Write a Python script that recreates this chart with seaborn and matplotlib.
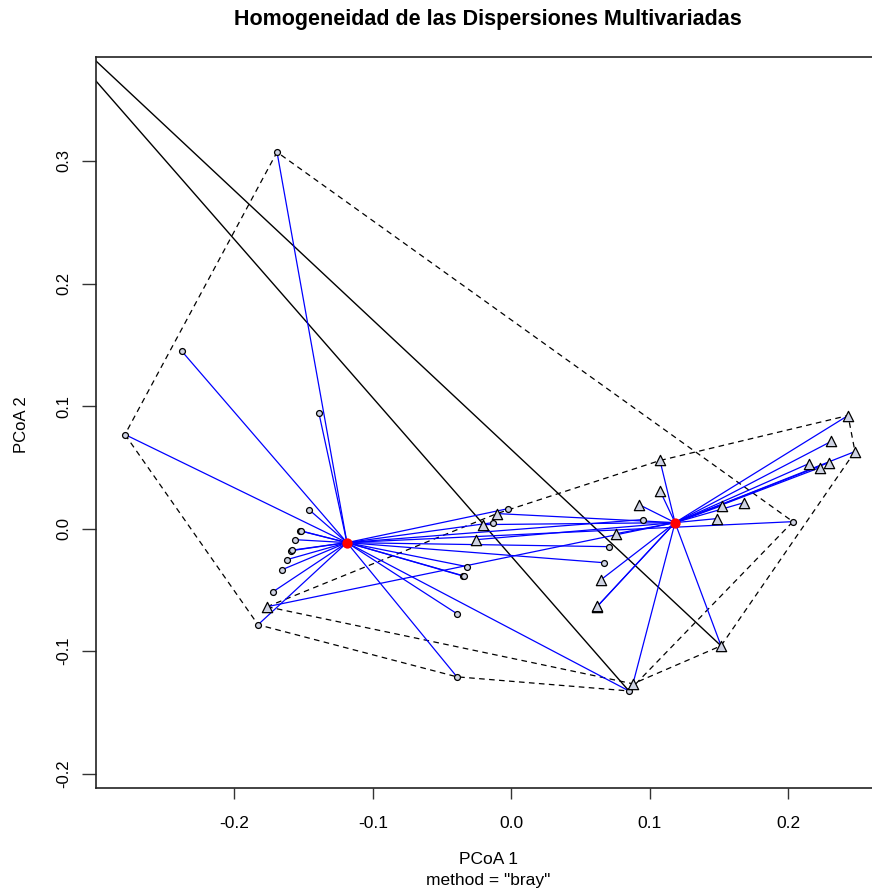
import numpy as np
import pandas as pd
import seaborn as sns
import matplotlib
matplotlib.use("Agg")
import matplotlib.pyplot as plt

# ---------------- data ----------------
g1_x = [-0.1693, -0.2379, -0.1390, -0.2791, -0.1462, -0.1527, -0.1520, -0.1563,
        -0.1592, -0.1588, -0.1621, -0.1657, -0.1722, -0.1830, -0.0394, -0.0394,
        -0.0350, -0.0346, -0.0321, -0.0134, -0.0025, 0.0949, 0.0704, 0.0668,
        0.2032, 0.0848]
g1_y = [0.3072, 0.1446, 0.0940, 0.0768, 0.0155, -0.0016, -0.0020, -0.0090,
        -0.0180, -0.0176, -0.0253, -0.0335, -0.0515, -0.0784, -0.1209, -0.0694,
        -0.0384, -0.0388, -0.0310, 0.0049, 0.0163, 0.0074, -0.0147, -0.0278,
        0.0057, -0.1324]
g2_x = [0.2430, 0.2307, 0.2480, 0.2148, 0.2227, 0.2292, 0.1072, 0.1072, 0.0921,
        0.1520, 0.1679, 0.1484, 0.0755, 0.0646, 0.0617, 0.0621, 0.1513, 0.0877,
        -0.0105, -0.0206, -0.0256, -0.1765]
g2_y = [0.0923, 0.0711, 0.0629, 0.0531, 0.0498, 0.0539, 0.0556, 0.0310, 0.0196,
        0.0188, 0.0212, 0.0082, -0.0041, -0.0417, -0.0637, -0.0633, -0.0956, -0.1266,
        0.0123, 0.0033, -0.0090, -0.0637]
centroid_x = [-0.1188, 0.1181]
centroid_y = [-0.0114, 0.0049]
# solid black segments coming from outside the plotted window
extra_from = (-0.3693, 0.4548)
extra_to_x = [0.1513, 0.0848]
extra_to_y = [-0.0956, -0.1324]

xticks = [-0.2, -0.1, 0.0, 0.1, 0.2]
yticks = [-0.2, -0.1, 0.0, 0.1, 0.2, 0.3]
title = "Homogeneidad de las Dispersiones Multivariadas"


def convex_hull(xs, ys):
    pts = sorted(set(zip(xs, ys)))
    def cross(o, a, b):
        return (a[0]-o[0])*(b[1]-o[1]) - (a[1]-o[1])*(b[0]-o[0])
    lower, upper = [], []
    for p in pts:
        while len(lower) >= 2 and cross(lower[-2], lower[-1], p) <= 0:
            lower.pop()
        lower.append(p)
    for p in reversed(pts):
        while len(upper) >= 2 and cross(upper[-2], upper[-1], p) <= 0:
            upper.pop()
        upper.append(p)
    h = lower[:-1] + upper[:-1]
    h.append(h[0])
    return [p[0] for p in h], [p[1] for p in h]


sns.set_style("ticks")
plt.rcParams['font.family'] = ['Liberation Sans', 'DejaVu Sans']
plt.rcParams['text.color'] = 'black'
plt.rcParams['xtick.color'] = '#333333'
plt.rcParams['ytick.color'] = '#333333'
plt.rcParams['xtick.labelcolor'] = 'black'
plt.rcParams['ytick.labelcolor'] = 'black'

W, H = 872, 891
fig = plt.figure(figsize=(W/100, H/100), dpi=100)
ax = fig.add_axes([96/W, 1-788/H, (W-96)/W, (788-57)/H])

# hulls
for gx, gy in [(g1_x, g1_y), (g2_x, g2_y)]:
    hx, hy = convex_hull(gx, gy)
    ax.plot(hx, hy, color='black', lw=0.9, ls=(0, (4.5, 3.5)), zorder=1)

# black segments
for tx, ty in zip(extra_to_x, extra_to_y):
    ax.plot([extra_from[0], tx], [extra_from[1], ty], color='black', lw=1.0, zorder=1)

# blue segments to centroids
for gi, (gx, gy) in enumerate([(g1_x, g1_y), (g2_x, g2_y)]):
    for px, py in zip(gx, gy):
        ax.plot([centroid_x[gi], px], [centroid_y[gi], py], color='#0000ff', lw=0.9, zorder=2)

df1 = pd.DataFrame({'x': g1_x, 'y': g1_y})
df2 = pd.DataFrame({'x': g2_x, 'y': g2_y})
sns.scatterplot(data=df1, x='x', y='y', marker='o', s=18, facecolor='#cfd3e3',
                edgecolor='black', linewidth=0.9, ax=ax, zorder=3)
sns.scatterplot(data=df2, x='x', y='y', marker='^', s=55, facecolor='#cfd3e3',
                edgecolor='black', linewidth=0.9, ax=ax, zorder=3)
dfc = pd.DataFrame({'x': centroid_x, 'y': centroid_y})
sns.scatterplot(data=dfc, x='x', y='y', marker='o', s=55, color='red',
                edgecolor='red', linewidth=0, ax=ax, zorder=4)

ax.set_xlim(-0.3, 0.2603)
ax.set_ylim(-0.2116, 0.3848)
ax.set_xticks(xticks)
ax.set_xticklabels([f"{v:.1f}" for v in xticks])
ax.set_yticks(yticks)
ax.set_yticklabels([f"{v:.1f}" for v in yticks], rotation=90, va='center')
ax.tick_params(axis='x', length=8, width=1, pad=12, labelsize=12.5)
ax.tick_params(axis='y', length=10, width=1, pad=8, labelsize=12)
for s in ['left', 'bottom', 'top']:
    ax.spines[s].set_linewidth(1.2)
    ax.spines[s].set_color('#222222')
ax.spines['right'].set_visible(False)
ax.set_xlabel('')
ax.set_ylabel('')

fig.text(488/W, 1-19/H, title, ha='center', va='center', fontsize=15.5, fontweight='bold')
fig.text(488/W, 1-860/H, 'PCoA 1', ha='center', va='center', fontsize=12.5)
fig.text(488/W, 1-880/H, 'method = "bray"', ha='center', va='center', fontsize=12.5)
fig.text(21/W, 1-425/H, 'PCoA 2', ha='center', va='center', fontsize=12, rotation=90)

fig.savefig('out.png', dpi=100)
